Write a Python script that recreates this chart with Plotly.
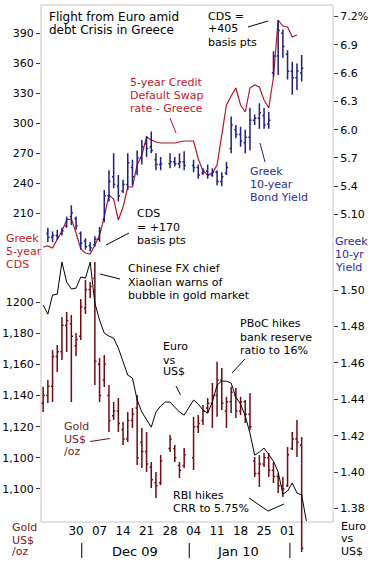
import plotly.graph_objects as go

# ---------------- data ----------------
dates = ["2009-11-19", "2009-11-20",
         "2009-11-23", "2009-11-24", "2009-11-25", "2009-11-26", "2009-11-27",
         "2009-11-30", "2009-12-01", "2009-12-02", "2009-12-03", "2009-12-04",
         "2009-12-07", "2009-12-08", "2009-12-09", "2009-12-10", "2009-12-11",
         "2009-12-14", "2009-12-15", "2009-12-16", "2009-12-17", "2009-12-18",
         "2009-12-21", "2009-12-22", "2009-12-23", "2009-12-24", "2009-12-25",
         "2009-12-28", "2009-12-29", "2009-12-30", "2009-12-31", "2010-01-01",
         "2010-01-04", "2010-01-05", "2010-01-06", "2010-01-07", "2010-01-08",
         "2010-01-11", "2010-01-12", "2010-01-13", "2010-01-14", "2010-01-15",
         "2010-01-18", "2010-01-19", "2010-01-20", "2010-01-21", "2010-01-22",
         "2010-01-25", "2010-01-26", "2010-01-27", "2010-01-28", "2010-01-29",
         "2010-02-01", "2010-02-02", "2010-02-03", "2010-02-04", "2010-02-05"]

# Greek 5-year CDS (basis points), first 55 days
cds = [176, 177, 175, 183, 192, 203, 204, 190, 174, 170, 169, 178, 188, 206, 228,
       224, 203, 216, 236, 236, 258, 268, 286, 283, 281, 280, 280, 280, 280, 281,
       282, 282, 282, 264, 252, 248, 250, 258, 290, 318, 327, 335, 318, 311, 335,
       338, 336, 323, 315, 346, 403, 397, 396, 386, 388]

# Greek 10-year bond yield (%), OHLC
yld_high = [None, 4.96, 4.92, 4.94, 4.96, 5.08, 5.20, 5.08, 4.92, 4.85, 4.81, 4.87, 4.97,
            5.36, 5.57, 5.75, 5.52, 5.47, 5.75, 5.68, 5.78, 5.89, 5.93, 5.98, 5.75, 5.71,
            None, 5.75, 5.71, 5.75, 5.77, None, 5.68, 5.63, 5.59, 5.63, 5.59, 5.57, 5.55,
            5.66, 6.14, 6.05, 6.03, 6.00, 6.23, 6.16, 6.28, 6.23, 6.19, 6.83, 7.16, 7.06,
            6.84, 6.72, 6.70, 6.79, None]
yld_low = [None, 4.81, 4.81, 4.83, 4.88, 4.96, 4.99, 4.94, 4.73, 4.73, 4.71, 4.76, 4.81,
           5.02, 5.24, 5.38, 5.24, 5.33, 5.36, 5.41, 5.52, 5.63, 5.71, 5.75, 5.57, 5.57,
           None, 5.59, 5.61, 5.59, 5.57, None, 5.55, 5.48, 5.52, 5.48, 5.50, 5.41, 5.40,
           5.52, 5.75, 5.91, 5.82, 5.75, 5.78, 6.05, 6.01, 6.01, 6.01, 6.56, 6.58, 6.76,
           6.53, 6.37, 6.42, 6.51, None]
yld_open = [None, 4.90, 4.86, 4.88, 4.90, 4.98, 5.08, 5.06, 4.90, 4.82, 4.77, 4.78, 4.84,
            5.05, 5.30, 5.50, 5.40, 5.35, 5.42, 5.60, 5.55, 5.70, 5.85, 5.82, 5.68, 5.63,
            None, 5.64, 5.66, 5.64, 5.66, None, 5.62, 5.60, 5.54, 5.56, 5.52, 5.55, 5.45,
            5.54, 5.80, 6.00, 5.95, 5.86, 5.92, 6.10, 6.12, 6.15, 6.06, 6.60, 6.78, 7.02,
            6.80, 6.62, 6.55, 6.60, None]
yld_close = [None, 4.86, 4.88, 4.86, 4.93, 5.05, 5.12, 4.98, 4.80, 4.76, 4.75, 4.84, 4.93,
             5.30, 5.45, 5.42, 5.30, 5.42, 5.65, 5.50, 5.70, 5.82, 5.80, 5.78, 5.63, 5.64,
             None, 5.66, 5.64, 5.66, 5.62, None, 5.60, 5.52, 5.56, 5.52, 5.55, 5.45, 5.50,
             5.60, 6.05, 5.95, 5.88, 5.92, 6.10, 6.12, 6.18, 6.05, 6.10, 6.78, 7.05, 6.88,
             6.62, 6.55, 6.62, 6.65, None]

# Gold US$/oz, OHLC
gold_high = [1145.6, 1149.9, 1169.2, 1172.4, 1190.4, 1193.6, 1191.7, 1180.1, 1201.9, 1214.1,
             1212.8, 1225.7, 1164.1, 1166.0, 1146.7, 1135.8, 1138.4, 1123.0, 1129.4, 1132.0,
             1140.3, 1119.1, 1116.6, 1097.3, 1090.9, 1101.8, None, 1114.6, 1108.2, 1097.3,
             1106.3, None, 1126.4, 1127.5, 1133.9, 1138.4, 1148.0, 1161.7, 1157.6, 1139.2,
             1145.6, 1144.8, 1139.2, 1137.1, 1141.6, 1100.5, 1101.8, 1103.1, 1103.1, 1097.3,
             1090.2, 1087.7, 1106.9, 1116.6, 1124.3, 1113.4, None]
gold_low = [1129.4, 1135.2, 1135.8, 1155.1, 1162.8, 1167.9, 1135.8, 1165.3, 1175.6, 1192.3,
            1202.6, 1146.7, 1135.8, 1145.4, 1116.6, 1124.3, 1116.6, 1108.2, 1110.1, 1119.1,
            1095.4, 1093.5, 1090.9, 1080.6, 1074.2, 1082.5, None, 1103.7, 1097.3, 1087.0,
            1093.5, None, 1092.2, 1116.0, 1121.1, 1128.8, 1119.1, 1126.4, 1130.7, 1119.1,
            1128.8, 1125.5, 1127.5, 1122.3, 1117.8, 1087.7, 1081.3, 1094.1, 1087.7, 1083.8,
            1077.4, 1074.8, 1081.3, 1105.0, 1100.5, 1039.5, None]
gold_open = [1135, 1140, 1146, 1165, 1168, 1185, 1186, 1172, 1178, 1196,
             1208, 1215, 1160, 1150, 1140, 1127, 1130, 1118, 1112, 1124,
             1132, 1110, 1104, 1094, 1084, 1084, None, 1106, 1106, 1095,
             1095, None, 1100, 1120, 1124, 1132, 1135, 1140, 1150, 1130,
             1136, 1140, 1130, 1136, 1128, 1098, 1090, 1096, 1100, 1092,
             1088, 1082, 1082, 1106, 1112, 1108, None]
gold_close = [1140, 1146, 1165, 1168, 1185, 1188, 1178, 1176, 1197, 1208,
              1210, 1162, 1140, 1160, 1124, 1130, 1122, 1112, 1124, 1128,
              1100, 1104, 1096, 1086, 1082, 1098, None, 1112, 1100, 1092,
              1102, None, 1120, 1122, 1130, 1135, 1140, 1150, 1135, 1136,
              1142, 1130, 1136, 1128, 1120, 1090, 1096, 1100, 1092, 1088,
              1082, 1080, 1102, 1112, 1110, 1042, None]

# Euro vs US$
euro = [1.4918, 1.4868, 1.4973, 1.4978, 1.5154, 1.5044, 1.5006, 1.5011, 1.5072, 1.5066,
        1.5154, 1.4929, 1.4835, 1.4764, 1.4747, 1.4736, 1.4681, 1.4610, 1.4533, 1.4517,
        1.4396, 1.4330, 1.4291, 1.4247, 1.4330, 1.4363, 1.4385, 1.4385, 1.4357, 1.4330,
        1.4313, 1.4352, 1.4396, 1.4374, 1.4341, 1.4324, 1.4385, 1.4478, 1.4500, 1.4500,
        1.4489, 1.4412, 1.4374, 1.4308, 1.4214, 1.4093, 1.4110, 1.4132, 1.4099, 1.4060,
        1.4000, 1.3879, 1.3896, 1.3940, 1.3885, 1.3874, 1.3731]

# tick labels
x_tickvals = ["2009-11-30", "2009-12-07", "2009-12-14", "2009-12-21", "2009-12-28",
              "2010-01-04", "2010-01-11", "2010-01-18", "2010-01-25", "2010-02-01"]
x_ticktext = ["30", "07", "14", "21", "28", "04", "11", "18", "25", "01"]
cds_ticks = [210, 240, 270, 300, 330, 360, 390]
yld_ticks = [7.2, 6.9, 6.6, 6.3, 6.0, 5.7, 5.4, 5.1]
yld_ticktext = ["7.2%", "6.9", "6.6", "6.3", "6.0", "5.7", "5.4", "5.10"]
gold_ticks = [1200, 1180, 1160, 1140, 1120, 1100, 1080]
gold_ticktext = ["1200", "1,180", "1,160", "1,140", "1,120", "1,100", "1,100"]
euro_ticks = [1.50, 1.48, 1.46, 1.44, 1.42, 1.40, 1.38]
euro_ticktext = ["1.50", "1.48", "1.46", "1.44", "1.42", "1.40", "1.38"]

# ---------------- styling / layout helpers ----------------
FONT = "DejaVu Sans"
RED = "#b3182c"
RED_TXT = "#c0202c"
NAVY = "#1f1f80"
NAVY_TXT = "#2b2ba0"
MAROON = "#6e0c12"
MAROON_TXT = "#7a1a1a"
FRAME = "#c4c4c4"

W_FIG, H_FIG = 372, 563
ML, MR, MT, MB = 41, 39, 5, 0
PW = W_FIG - ML - MR
PH = H_FIG - MT - MB


def px(X):
    return (X - ML) / PW


def py(Y):
    return (H_FIG - MB - Y) / PH


def present(values, *cols):
    idx = [i for i, v in enumerate(values) if v is not None]
    return [[c[i] for i in idx] for c in cols]


fig = go.Figure()

fig.add_trace(go.Scatter(x=dates[:len(cds)], y=cds, mode="lines", yaxis="y",
                         line=dict(color=RED, width=1.2), hoverinfo="skip",
                         showlegend=False))

yx, yo, yh, yl, yc = present(yld_high, dates, yld_open, yld_high, yld_low, yld_close)
fig.add_trace(go.Ohlc(x=yx, open=yo, high=yh, low=yl, close=yc, yaxis="y2",
                      increasing=dict(line=dict(color=NAVY, width=1.5)),
                      decreasing=dict(line=dict(color=NAVY, width=1.5)),
                      tickwidth=0.35, hoverinfo="skip", showlegend=False))

gx, g_o, gh, gl, gc = present(gold_high, dates, gold_open, gold_high, gold_low, gold_close)
fig.add_trace(go.Ohlc(x=gx, open=g_o, high=gh, low=gl, close=gc, yaxis="y3",
                      increasing=dict(line=dict(color=MAROON, width=1.5)),
                      decreasing=dict(line=dict(color=MAROON, width=1.5)),
                      tickwidth=0.35, hoverinfo="skip", showlegend=False))

fig.add_trace(go.Scatter(x=dates, y=euro, mode="lines", yaxis="y4",
                         line=dict(color="#000000", width=1), hoverinfo="skip",
                         showlegend=False))

tickfont = dict(family=FONT, size=11, color="#000")
common_y = dict(showgrid=False, zeroline=False, showline=False, ticks="outside",
                ticklen=4, tickwidth=1, tickcolor="#333", tickfont=tickfont,
                fixedrange=True)

fig.update_layout(
    width=W_FIG, height=H_FIG, autosize=False,
    margin=dict(l=ML, r=MR, t=MT, b=MB, pad=0),
    paper_bgcolor="white", plot_bgcolor="white",
    font=dict(family=FONT, size=11, color="#000"),
    showlegend=False,
    xaxis=dict(type="date", range=["2009-11-18 13:00", "2010-02-12 16:00"],
               rangebreaks=[dict(bounds=["sat", "mon"])],
               anchor="free", position=py(522),
               tickmode="array", tickvals=x_tickvals, ticktext=x_ticktext,
               ticks="", showline=False, showgrid=False, zeroline=False,
               tickfont=dict(family=FONT, size=12, color="#000"),
               rangeslider=dict(visible=False), fixedrange=True),
    yaxis=dict(range=[-140, 418], tickmode="array", tickvals=cds_ticks,
               side="left", **common_y),
    yaxis2=dict(range=[1.4095, 7.3205], tickmode="array", tickvals=yld_ticks,
                ticktext=yld_ticktext, overlaying="y", side="right", **common_y),
    yaxis3=dict(range=[1032.5, 1390.6], tickmode="array", tickvals=gold_ticks,
                ticktext=gold_ticktext, overlaying="y", side="left", **common_y),
    yaxis4=dict(range=[1.35004, 1.6567], tickmode="array", tickvals=euro_ticks,
                ticktext=euro_ticktext, overlaying="y", side="right", **common_y),
)

# frame
fig.add_shape(type="rect", xref="paper", yref="paper", x0=0, x1=1,
              y0=py(522), y1=py(5), line=dict(color=FRAME, width=1), layer="below")


def text_block(lines, X, Ys, color="#000", size=11, anchor="left"):
    for t, Y in zip(lines, Ys):
        fig.add_annotation(x=px(X), y=py(Y), xref="paper", yref="paper", text=t,
                           showarrow=False, xanchor=anchor, yanchor="middle",
                           font=dict(family=FONT, size=size, color=color),
                           borderpad=0)


def seg(points, color="#000", width=1):
    path = "M " + " L ".join(f"{px(a)},{py(b)}" for a, b in points)
    fig.add_shape(type="path", xref="paper", yref="paper", path=path,
                  line=dict(color=color, width=width))


text_block(["Flight from Euro amid", "debt Crisis in Greece"], 48, [17, 30.5], size=12)
text_block(["5-year Credit", "Default Swap", "rate - Greece"], 129, [82, 95.5, 108.5], RED_TXT)
seg([(170, 118), (176, 133)], RED)
text_block(["CDS =", "+405", "basis pts"], 207, [16, 29, 42.5])
seg([(248, 27), (268, 21)])
text_block(["Greek", "10-year", "Bond Yield"], 248.5, [171, 184.5, 197], NAVY_TXT)
seg([(260, 143), (265, 162)], NAVY)
text_block(["CDS", "= +170", "basis pts"], 136, [213.5, 227, 240])
seg([(106, 245), (129, 233)])
text_block(["Greek", "5-year", "CDS"], 5, [238, 251, 264], RED_TXT)
text_block(["Greek", "10-yr", "Yield"], 333.5, [241, 254.5, 267], NAVY_TXT)
text_block(["Chinese FX chief", "Xiaolian warns of", "bubble in gold market"], 127,
           [268.5, 282, 295])
seg([(100, 274), (120, 279)])
text_block(["PBoC hikes", "bank reserve", "ratio to 16%"], 238.5, [323.5, 337, 350])
seg([(232, 373), (245, 359)])
text_block(["Euro", "vs", "US$"], 161.5, [346.5, 360, 371.5])
seg([(176, 386), (180.5, 395)])
text_block(["Gold", "US$", "/oz"], 62.5, [426, 439.5, 451.5], MAROON_TXT)
seg([(90, 441.5), (110, 438.5)], MAROON)
text_block(["RBI hikes", "CRR to 5.75%"], 172, [495.5, 508])
seg([(249, 498), (268, 511), (284, 504)])
text_block(["Gold", "US$", "/oz"], 11, [527, 540, 551.5], MAROON_TXT)
text_block(["Euro", "vs", "US$"], 339.5, [526, 538.5, 551.5])

# month labels and dividers
text_block(["Dec 09"], 134.5, [551], size=13, anchor="center")
text_block(["Jan 10"], 238, [551], size=13, anchor="center")
for d in ["2009-12-01 05:00", "2010-01-01 02:00", "2010-02-01 12:00"]:
    fig.add_shape(type="line", xref="x", yref="paper", x0=d, x1=d,
                  y0=py(543), y1=py(558), line=dict(color="#000", width=1))

fig.write_html("out.html", config={"displayModeBar": False},
               post_script="document.body.style.margin='0';"
                           "document.body.style.overflow='hidden';")
